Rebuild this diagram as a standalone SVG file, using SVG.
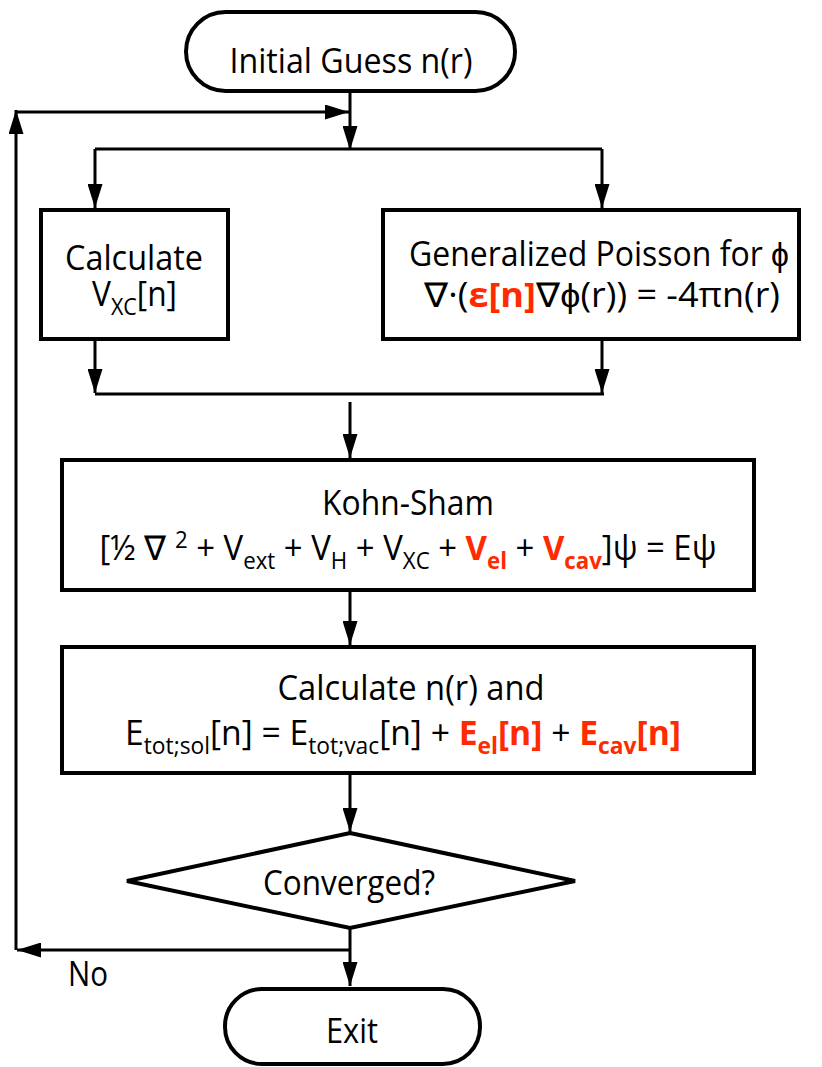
<svg xmlns="http://www.w3.org/2000/svg" width="822" height="1067" viewBox="0 0 822 1067">
<style>
.box{fill:#fff;stroke:#000;stroke-width:4}
.ln{fill:none;stroke:#000;stroke-width:3}
.arr{marker-end:url(#ah)}
.t{font-family:"Open Sans","Liberation Sans",sans-serif;font-size:34px;fill:#000;text-anchor:middle}
.r{fill:#ff2a00;font-weight:bold}
.s{font-size:23px}
</style>
<defs>
<marker id="ah" markerWidth="8" markerHeight="5" refX="8" refY="2.5" orient="auto" markerUnits="strokeWidth"><path d="M0,0 L8,2.5 L0,5 z" fill="#000"/></marker>
</defs>
<rect width="822" height="1067" fill="#fff"/>
<g id="connectors">
<path class="ln arr" d="M350,91 V150"/>
<path class="ln" d="M95,149 H602"/>
<path class="ln arr" d="M95,149 V208"/>
<path class="ln arr" d="M602,149 V208"/>
<path class="ln arr" d="M95,339 V393"/>
<path class="ln arr" d="M602,339 V393"/>
<path class="ln" d="M95,394 H604"/>
<path class="ln arr" d="M350,402 V458"/>
<path class="ln arr" d="M350,590 V645"/>
<path class="ln arr" d="M350,773 V832"/>
<path class="ln arr" d="M350,928 V986"/>
<path class="ln arr" d="M350,950 H17"/>
<path class="ln arr" d="M16,950 V110"/>
<path class="ln arr" d="M16,112 H349"/>
</g>
<g id="start">
<rect class="box" x="186" y="12" width="329" height="79" rx="39.5"/>
<text class="t" x="351" y="73" textLength="243" lengthAdjust="spacingAndGlyphs">Initial Guess n(r)</text>
</g>
<g id="vxc">
<rect class="box" x="41" y="210" width="187" height="129"/>
<text class="t" x="134" y="270" textLength="138" lengthAdjust="spacingAndGlyphs">Calculate</text>
<text class="t" x="134.5" y="306" textLength="85" lengthAdjust="spacingAndGlyphs">V<tspan class="s" dy="9">XC</tspan><tspan dy="-9">[n]</tspan></text>
</g>
<g id="poisson">
<rect class="box" x="383" y="210" width="416" height="129"/>
<text class="t" x="599" y="266" textLength="380" lengthAdjust="spacingAndGlyphs">Generalized Poisson for ϕ</text>
<text class="t" x="602" y="307" textLength="356" lengthAdjust="spacingAndGlyphs">∇·(<tspan class="r">ε[n]</tspan>∇ϕ(r)) = -4πn(r)</text>
</g>
<g id="kohnsham">
<rect class="box" x="62" y="460" width="692" height="130"/>
<text class="t" x="408" y="515" textLength="172" lengthAdjust="spacingAndGlyphs">Kohn-Sham</text>
<text class="t" x="408" y="560" textLength="617" lengthAdjust="spacingAndGlyphs">[½ ∇ <tspan class="s" dy="-12">2</tspan><tspan dy="12"> + V</tspan><tspan class="s" dy="9">ext</tspan><tspan dy="-9"> + V</tspan><tspan class="s" dy="9">H</tspan><tspan dy="-9"> + V</tspan><tspan class="s" dy="9">XC</tspan><tspan dy="-9"> + </tspan><tspan class="r">V</tspan><tspan class="r s" dy="9">el</tspan><tspan dy="-9"> + </tspan><tspan class="r">V</tspan><tspan class="r s" dy="9">cav</tspan><tspan dy="-9">]ψ = Eψ</tspan></text>
</g>
<g id="energy">
<rect class="box" x="62" y="647" width="692" height="126"/>
<text class="t" x="411" y="700" textLength="267" lengthAdjust="spacingAndGlyphs">Calculate n(r) and</text>
<text class="t" x="403" y="745" textLength="556" lengthAdjust="spacingAndGlyphs">E<tspan class="s" dy="9">tot;sol</tspan><tspan dy="-9">[n] = E</tspan><tspan class="s" dy="9">tot;vac</tspan><tspan dy="-9">[n] + </tspan><tspan class="r">E</tspan><tspan class="r s" dy="9">el</tspan><tspan class="r" dy="-9">[n]</tspan><tspan> + </tspan><tspan class="r">E</tspan><tspan class="r s" dy="9">cav</tspan><tspan class="r" dy="-9">[n]</tspan></text>
</g>
<g id="converged">
<polygon class="box" points="350,833 575,881 350,928 127,881"/>
<text class="t" x="349" y="895" textLength="172" lengthAdjust="spacingAndGlyphs">Converged?</text>
</g>
<g id="no-label">
<text class="t" x="88" y="986" textLength="40" lengthAdjust="spacingAndGlyphs">No</text>
</g>
<g id="exit">
<rect class="box" x="225" y="989" width="255" height="75" rx="37"/>
<text class="t" x="352" y="1043" textLength="52" lengthAdjust="spacingAndGlyphs">Exit</text>
</g>
</svg>
